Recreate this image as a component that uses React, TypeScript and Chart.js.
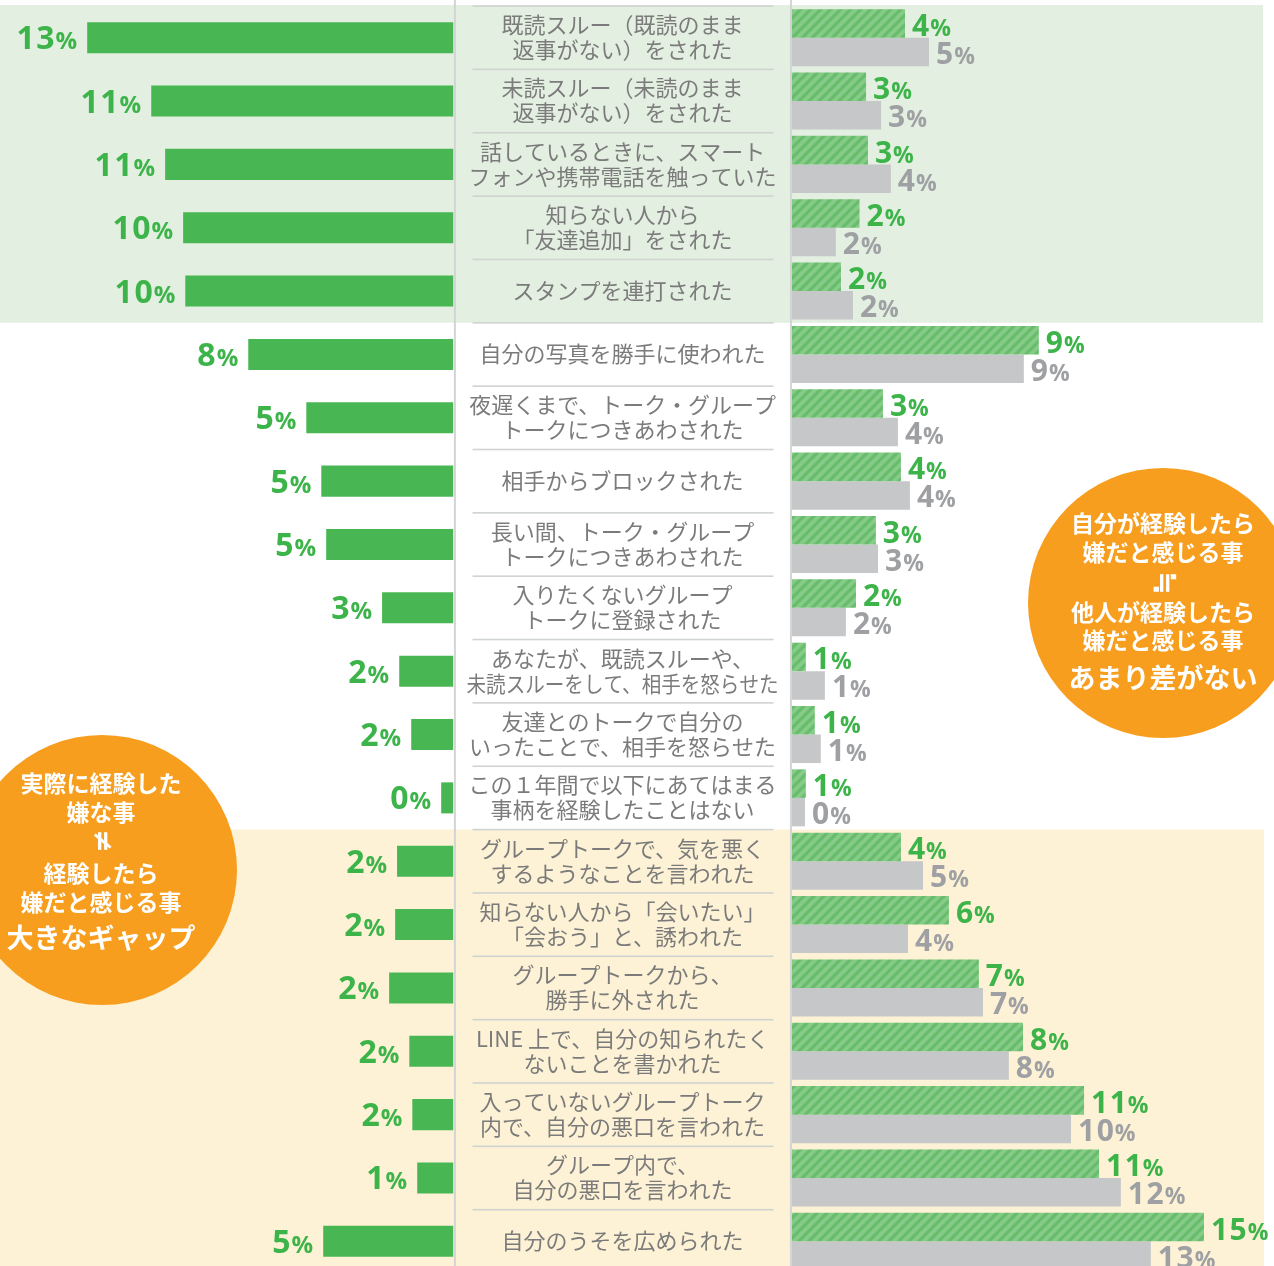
import React, { useEffect, useRef } from "react";
import { Chart, registerables } from "chart.js";

Chart.register(...registerables);

// ---------- data ----------
const categories: string[][] = [
  ["既読スルー（既読のまま", "返事がない）をされた"],
  ["未読スルー（未読のまま", "返事がない）をされた"],
  ["話しているときに、スマート", "フォンや携帯電話を触っていた"],
  ["知らない人から", "「友達追加」をされた"],
  ["スタンプを連打された"],
  ["自分の写真を勝手に使われた"],
  ["夜遅くまで、トーク・グループ", "トークにつきあわされた"],
  ["相手からブロックされた"],
  ["長い間、トーク・グループ", "トークにつきあわされた"],
  ["入りたくないグループ", "トークに登録された"],
  ["あなたが、既読スルーや、", "未読スルーをして、相手を怒らせた"],
  ["友達とのトークで自分の", "いったことで、相手を怒らせた"],
  ["この１年間で以下にあてはまる", "事柄を経験したことはない"],
  ["グループトークで、気を悪く", "するようなことを言われた"],
  ["知らない人から「会いたい」", "「会おう」と、誘われた"],
  ["グループトークから、", "勝手に外された"],
  ["LINE 上で、自分の知られたく", "ないことを書かれた"],
  ["入っていないグループトーク", "内で、自分の悪口を言われた"],
  ["グループ内で、", "自分の悪口を言われた"],
  ["自分のうそを広められた"],
];

// 実際に経験した嫌な事 (left)
const experiencedVals = [13.43, 11.08, 10.57, 9.91, 9.83, 7.52, 5.39, 4.84, 4.66, 2.61, 1.98, 1.54, 0.44, 2.06, 2.13, 2.35, 1.61, 1.5, 1.32, 4.77];
const experiencedLabels = ["13", "11", "11", "10", "10", "8", "5", "5", "5", "3", "2", "2", "0", "2", "2", "2", "2", "2", "1", "5"];

// 自分が経験したら嫌だと感じる事 (right, hatched green)
const selfVals = [4.15, 2.72, 2.79, 2.48, 1.8, 9.06, 3.34, 4.0, 3.08, 2.35, 0.51, 0.84, 0.51, 4.0, 5.76, 6.86, 8.48, 10.72, 11.27, 15.12];
const selfLabels = ["4", "3", "3", "2", "2", "9", "3", "4", "3", "2", "1", "1", "1", "4", "6", "7", "8", "11", "11", "15"];

// 他人が経験したら嫌だと感じる事 (right, gray)
const otherVals = [5.03, 3.27, 3.63, 1.61, 2.24, 8.51, 3.89, 4.33, 3.16, 1.98, 1.21, 1.06, 0.48, 4.81, 4.26, 7.01, 7.96, 10.24, 12.07, 13.17];
const otherLabels = ["5", "3", "4", "2", "2", "9", "4", "4", "3", "2", "1", "1", "0", "5", "4", "7", "8", "10", "12", "13"];

// highlighted row groups
const greenBandRows = [0, 4];
const yellowBandRows = [13, 19];

const rightCircleLines = ["自分が経験したら", "嫌だと感じる事", "≒", "他人が経験したら", "嫌だと感じる事", "あまり差がない"];
const leftCircleLines = ["実際に経験した", "嫌な事", "≠", "経験したら", "嫌だと感じる事", "大きなギャップ"];

// ---------- styles ----------
const W = 1274;
const H = 1274;
const GREEN = "#48b753";
const GREEN_TEXT = "#3db44a";
const GRAY_BAR = "#c6c7c9";
const GRAY_TEXT = "#9fa0a3";
const LABEL_TEXT = "#7b7b7b";
const ORANGE = "#f79e1e";
const NUM_FONT = '"Open Sans", "DejaVu Sans", sans-serif';
const JP_FONT = '"Noto Sans CJK JP", "Noto Sans", sans-serif';

function makePattern(): CanvasPattern | string {
  const t = document.createElement("canvas");
  t.width = 10;
  t.height = 10;
  const c = t.getContext("2d");
  if (!c) return "#7fc782";
  c.fillStyle = "#86cb88";
  c.fillRect(0, 0, 10, 10);
  c.strokeStyle = "#67bd6b";
  c.lineWidth = 3.2;
  c.beginPath();
  c.moveTo(-2, 12);
  c.lineTo(12, -2);
  c.moveTo(-7, 7);
  c.lineTo(7, -7);
  c.moveTo(3, 17);
  c.lineTo(17, 3);
  c.stroke();
  const p = c.createPattern(t, "repeat");
  return p || "#7fc782";
}

function drawValue(
  ctx: CanvasRenderingContext2D,
  x: number,
  y: number,
  num: string,
  color: string,
  alignRight: boolean,
  dSize: number,
  pSize: number
) {
  ctx.fillStyle = color;
  ctx.textBaseline = "alphabetic";
  ctx.textAlign = "left";
  const dFont = `700 ${dSize}px ${NUM_FONT}`;
  const pFont = `700 ${pSize}px ${NUM_FONT}`;
  ctx.font = dFont;
  const dw = ctx.measureText(num).width + (num.length - 1) * 1.5;
  ctx.font = pFont;
  const pw = ctx.measureText("%").width;
  const start = alignRight ? x - dw - pw - 1 : x;
  ctx.font = dFont;
  let cx = start;
  for (const ch of num) {
    ctx.fillText(ch, cx, y);
    cx += ctx.measureText(ch).width + 1.5;
  }
  ctx.font = pFont;
  ctx.fillText("%", start + dw + 1, y);
}

const decorPlugin = {
  id: "decor",
  beforeDatasetsDraw(chart: any) {
    const { ctx } = chart;
    const y = chart.scales.y;
    const xl = chart.scales.xl;
    const xr = chart.scales.xr;
    const band = y.getPixelForValue(1) - y.getPixelForValue(0);
    const top = (i: number) => y.getPixelForValue(i) - band / 2;
    const leftZero = xl.getPixelForValue(0);
    const rightZero = xr.getPixelForValue(0);
    const mid = (leftZero + rightZero) / 2;

    ctx.save();
    // bands
    ctx.fillStyle = "#e3efe0";
    ctx.fillRect(0, top(greenBandRows[0]) - 1, 1263, top(greenBandRows[1] + 1) - top(greenBandRows[0]) + 1);
    ctx.fillStyle = "#fdf2d5";
    ctx.fillRect(0, top(yellowBandRows[0]), 1264, H);

    // vertical divider lines
    ctx.fillStyle = "#d3d4d4";
    ctx.fillRect(leftZero + 0.7, 0, 2, H);
    ctx.fillRect(rightZero - 2, 0, 2, H);

    // row separators + labels in middle column
    for (let i = 0; i < categories.length; i++) {
      const t = top(i);
      ctx.fillStyle = "#cfd3d2";
      ctx.fillRect(mid - 150, t - 0.75, 301, 1.6);
      const lines = categories[i];
      const cy = y.getPixelForValue(i);
      ctx.fillStyle = LABEL_TEXT;
      ctx.font = `400 22px ${JP_FONT}`;
      ctx.textAlign = "center";
      ctx.textBaseline = "middle";
      const lh = 25;
      lines.forEach((ln, k) => {
        const ly = cy + (k - (lines.length - 1) / 2) * lh - 0.5;
        ctx.fillText(ln, mid, ly, 312);
      });
    }
    ctx.restore();
  },
  afterDatasetsDraw(chart: any) {
    const { ctx } = chart;
    ctx.save();
    const m0 = chart.getDatasetMeta(0);
    const m1 = chart.getDatasetMeta(1);
    const m2 = chart.getDatasetMeta(2);
    m0.data.forEach((el: any, i: number) => {
      drawValue(ctx, el.x - 10, el.y + 11.5, experiencedLabels[i], GREEN_TEXT, true, 32, 24);
    });
    m1.data.forEach((el: any, i: number) => {
      drawValue(ctx, el.x + 7, el.y + 12.5, selfLabels[i], GREEN_TEXT, false, 30, 23);
    });
    m2.data.forEach((el: any, i: number) => {
      drawValue(ctx, el.x + 7, el.y + 12, otherLabels[i], GRAY_TEXT, false, 30, 23);
    });
    ctx.restore();
  },
  afterDraw(chart: any) {
    const { ctx } = chart;
    const drawCircle = (cx: number, cy: number, r: number, lines: string[], offsets: number[], tx: number) => {
      ctx.save();
      ctx.fillStyle = ORANGE;
      ctx.beginPath();
      ctx.arc(cx, cy, r, 0, Math.PI * 2);
      ctx.fill();
      ctx.fillStyle = "#ffffff";
      ctx.textAlign = "center";
      ctx.textBaseline = "middle";
      lines.forEach((ln, k) => {
        const ly = cy + offsets[k];
        if (k === 2) {
          ctx.save();
          ctx.translate(tx, ly);
          ctx.rotate(Math.PI / 2);
          ctx.font = `700 28px "DejaVu Sans", sans-serif`;
          ctx.fillText(ln, 0, 0);
          ctx.restore();
        } else if (k === lines.length - 1) {
          ctx.font = `700 27px ${JP_FONT}`;
          ctx.fillText(ln, tx, ly);
        } else {
          ctx.font = `700 23px ${JP_FONT}`;
          ctx.fillText(ln, tx, ly);
        }
      });
      ctx.restore();
    };
    drawCircle(1163, 603, 135, rightCircleLines, [-80, -51, -20, 9, 37, 75], 1163);
    drawCircle(102, 870, 135, leftCircleLines, [-87, -58, -29, 3, 32, 68], 101);
  },
};

export default function App() {
  const ref = useRef<HTMLCanvasElement | null>(null);
  useEffect(() => {
    const canvas = ref.current;
    if (!canvas) return;
    const pattern = makePattern();
    const chart = new Chart(canvas, {
      type: "bar",
      data: {
        labels: categories,
        datasets: [
          {
            label: "実際に経験した嫌な事",
            data: experiencedVals,
            xAxisID: "xl",
            yAxisID: "y",
            grouped: false,
            categoryPercentage: 1,
            barPercentage: 0.49,
            backgroundColor: GREEN,
            borderWidth: 0,
          } as any,
          {
            label: "自分が経験したら嫌だと感じる事",
            data: selfVals,
            xAxisID: "xr",
            yAxisID: "y",
            categoryPercentage: 0.9,
            barPercentage: 1,
            backgroundColor: pattern as any,
            borderWidth: 0,
          },
          {
            label: "他人が経験したら嫌だと感じる事",
            data: otherVals,
            xAxisID: "xr",
            yAxisID: "y",
            categoryPercentage: 0.9,
            barPercentage: 1,
            backgroundColor: GRAY_BAR,
            borderWidth: 0,
          },
        ],
      },
      options: {
        responsive: false,
        animation: false,
        indexAxis: "y",
        layout: { padding: { top: 6, bottom: 1, left: 0, right: 0 } },
        plugins: {
          legend: { display: false },
          tooltip: { enabled: false },
        },
        scales: {
          y: { type: "category", display: false, offset: true, grid: { display: false } },
          xl: { type: "linear", axis: "x", position: "bottom", reverse: true, min: -30.12, max: 16.63, display: false },
          xr: { type: "linear", axis: "x", position: "bottom", min: -29.06, max: 17.69, display: false },
        } as any,
      },
      plugins: [decorPlugin],
    });
    return () => chart.destroy();
  }, []);

  return (
    <div style={{ position: "fixed", top: 0, left: 0, width: 1274, height: 1266, overflow: "hidden", background: "#ffffff" }}>
      <canvas ref={ref} width={W} height={H} style={{ display: "block", width: W, height: H }} />
    </div>
  );
}
